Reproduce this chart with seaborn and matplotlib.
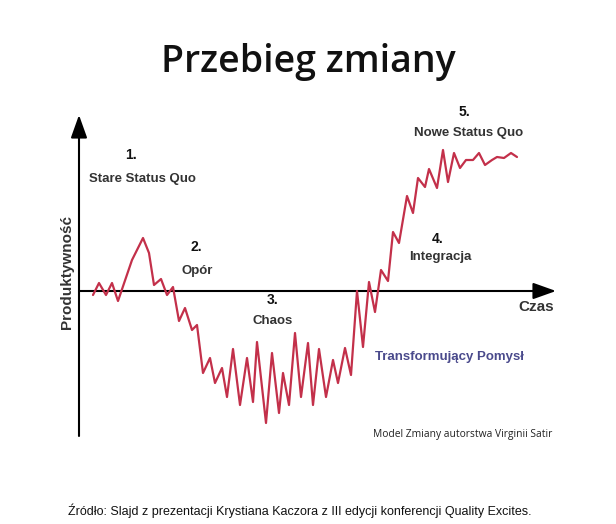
import matplotlib
matplotlib.use("Agg")
import matplotlib.pyplot as plt
import seaborn as sns
import pandas as pd

# Czas (time) and Produktywność (productivity)
czas = [14, 20, 27, 33, 39, 53, 64, 70, 75, 82, 88, 94, 100, 106, 113, 118,
        124, 131, 136, 143, 148, 154, 161, 168, 174, 178, 187, 193, 200, 204,
        210, 216, 222, 229, 234, 240, 247, 254, 259, 266, 272, 278, 284, 290,
        296, 302, 309, 314, 320, 328, 334, 339, 346, 350, 358, 364, 369, 375,
        381, 387, 394, 400, 406, 413, 418, 425, 432, 438]
produktywnosc = [-4, 8, -4, 8, -10, 31, 53, 38, 6, 12, -4, 4, -30, -17, -39, -34,
                 -82, -67, -92, -77, -106, -58, -114, -67, -111, -51, -132, -62, -122, -82,
                 -114, -42, -106, -52, -114, -58, -106, -69, -92, -57, -84, 0, -56, 9,
                 -21, 21, 10, 59, 48, 95, 78, 113, 104, 122, 103, 141, 109, 138,
                 123, 131, 131, 138, 126, 131, 134, 133, 138, 134]

title = "Przebieg zmiany"
stage_numbers = ["1.", "2.", "3.", "4.", "5."]
stage_names = ["Stare Status Quo", "Opór", "Chaos", "Integracja", "Nowe Status Quo"]
x_label = "Czas"
y_label = "Produktywność"
idea_label = "Transformujący Pomysł"
model_note = "Model Zmiany autorstwa Virginii Satir"
source_note = "Źródło: Slajd z prezentacji Krystiana Kaczora z III edycji konferencji Quality Excites."

sns.set_theme(style="white")
plt.rcParams["font.family"] = ["Liberation Sans", "DejaVu Sans"]

W, H = 616, 524
fig = plt.figure(figsize=(W / 100, H / 100), dpi=100)
ax = fig.add_axes([0, 0, 1, 1])
ox, oy = 79, 291
ax.set_xlim(-ox, W - ox)
ax.set_ylim(oy - H, oy)
ax.axis("off")

df = pd.DataFrame({"Czas": czas, "Produktywnosc": produktywnosc})
sns.lineplot(data=df, x="Czas", y="Produktywnosc", ax=ax, color="#c3304a",
             linewidth=1.6, sort=False, zorder=3)

arrow = dict(arrowstyle="-|>,head_length=0.7,head_width=0.25", color="black",
             lw=1.5, mutation_scale=20, shrinkA=0, shrinkB=0)
ax.annotate("", xy=(0, oy - 115), xytext=(0, oy - 436), arrowprops=arrow, zorder=2)
ax.annotate("", xy=(556 - ox, 0), xytext=(0, 0), arrowprops=arrow, zorder=2)


def px(x, y, s, **kw):
    fig.text(x / W, 1 - y / H, s, ha="center", va="center", **kw)


px(308, 62, title, fontsize=27, family=["Open Sans", "DejaVu Sans"],
   fontweight="semibold", color="#111111")

num_pos = [(131, 155), (196, 247), (273, 300), (438, 239), (464, 112)]
name_pos = [(142, 179), (197, 271), (273, 321), (440, 257), (469, 133)]
for s, (x, y) in zip(stage_numbers, num_pos):
    px(x, y, s, fontsize=10, fontweight="bold", color="#111111")
for s, (x, y) in zip(stage_names, name_pos):
    px(x, y, s, fontsize=9.5, fontweight="bold", color="#333333")

px(536, 307, x_label, fontsize=11, fontweight="bold", color="#333333")
px(67, 272, y_label, fontsize=11, fontweight="bold", color="#333333", rotation=90)
px(449, 357, idea_label, fontsize=9.5, fontweight="bold", color="#4a4a8c")
px(463, 435, model_note, fontsize=7.4, family=["Open Sans", "DejaVu Sans"], color="#222222")
px(300, 511, source_note, fontsize=9, color="#111111")

fig.savefig("out.png", dpi=100, facecolor="white")
